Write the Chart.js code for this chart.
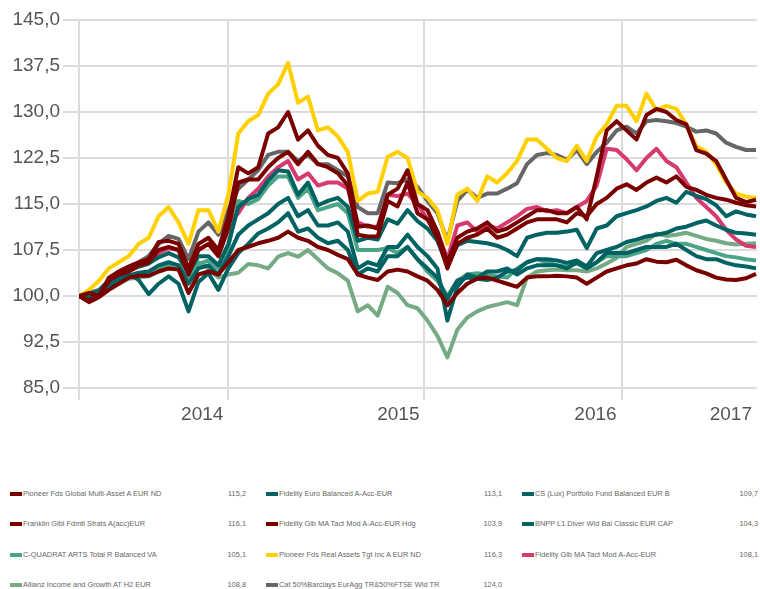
<!DOCTYPE html>
<html><head><meta charset="utf-8">
<script src="https://cdn.jsdelivr.net/npm/chart.js@4.4.0/dist/chart.umd.min.js"></script>
<style>
body{margin:0;background:#fff;width:760px;height:589px;overflow:hidden;position:relative;font-family:"Liberation Sans",Arial,sans-serif;}
#c{position:absolute;left:0;top:0;}
.lt{position:absolute;font-size:7.4px;color:#666;white-space:nowrap;line-height:10px;}
.sw{position:absolute;width:12px;height:4px;}
.lv{position:absolute;font-size:7.4px;color:#666;text-align:right;width:40px;line-height:10px;}
</style></head><body>
<canvas id="c" width="760" height="440"></canvas>
<div id="legend"></div>
<script>
// x tick positions (index units) and labels
const xTickPositions = [0, 15, 34.7, 54.5, 68.1];
const xTickLabels = ['', '2014', '2015', '2016', '2017'];
const yTickValues = [85, 92.5, 100, 107.5, 115, 122.5, 130, 137.5, 145];

// series values (index 0..68)
const franklin = [100,99.3,100,103,104,104.8,105.5,106,108.8,109,108.5,104.5,108.5,109.5,107.5,113,121,120,121,126.5,127.5,130,125.5,127,124.5,123,122.5,120,111.3,111.5,111,116.5,117.5,120.5,115,114,110.5,105.5,109.5,110.5,111,112,110.5,111,112,113,114,114,113.5,113.5,114.5,112.5,119.5,127,128.5,127,125.5,129.5,130.5,130,128.7,128,123.8,123.2,122,119,116,115.3,115.7];
const pioneerGlobal = [100,100.5,100,102.5,103.5,104,105,105.5,107.5,108,107.5,103.5,107.5,108.5,106.5,111,118.5,119,119,121,122.5,123.5,121.5,123.5,121.5,121,120,118,110,109.7,109.7,115.5,114.6,118.5,113.5,112.5,109.5,104.5,108.5,109.5,110,111,109.5,110,111,112,112.5,112.5,112.5,112,113.5,113,115,116,117.5,118.2,117.3,118.5,119.3,118.5,119.5,117.8,117.3,116.5,116,115.7,115.2,114.8,114.6];
const fidelityHdg = [100,99,99.8,101,102,103,103.3,103.3,104,104.5,104.3,100.5,103.5,104,103.5,105.5,107.5,108,108.6,109,109.5,110.5,109.5,109,108,107.5,106.7,106,103.5,103,102.6,104,104.3,104,103.2,102.5,101,98.5,100.5,102,102.8,103,102.5,102,101.5,103,103.2,103.2,103.3,103.2,103,102,103,104,104.5,105,105.3,106,105.6,105.5,105.9,105,104.2,103.7,103,102.7,102.6,102.9,103.6];
const fidelityEuro = [100,100.3,100.8,102.5,103.5,104.3,104.8,105.3,106.3,107,106.3,103.8,106.5,106.5,105,108.5,114.5,115.8,116.5,118.8,120.5,120.3,116.5,118.5,114.8,115.5,116,114.5,109,109.5,109.2,112.5,111.8,114,112.2,111,109,105,108.3,109,108.8,108.6,108.2,107.5,106.5,109.5,110,110.3,110.3,110.5,110.8,107.8,111,111.5,113,113.5,114,114.6,115.5,116,115.2,117,116.3,115.8,114.8,113,113.8,113.3,113];
const csPortfolio = [100,99.3,100.3,101.5,102.8,103.7,102.6,100.3,102,103.2,102,97.5,102.3,103.7,101,104.5,107,108.5,110.2,111,112,113.5,110.5,111,109.5,108.6,109,107.5,103.5,104.5,104,106.5,106.5,108,106,104.5,103,99.5,102.5,103,102.8,102.6,103,104,104.2,105.5,106,106,105.8,105.4,105.8,104.8,107,107.5,108,108.8,109.2,109.7,110,110.3,111,111.3,111.9,112.3,111.5,110.8,110.3,110.2,110];
const bnpp = [100,100,100.5,101.8,102.5,103.3,103.8,104,105,105.5,105,102,104.5,105,103.5,106.5,110,111.5,112.5,113.5,115,116,113,114,111.5,111.5,112,110.5,104.5,105.5,105,108,108,110,108,106.5,104.5,96,101.5,103.5,103,104,104,104.5,103.5,104.5,105,105,105,104.5,105.5,104.5,105.5,107,107,107,107.5,108,108,108,108.5,107.5,106.5,106,106,105.4,105,104.8,104.5];
const fidelityTact = [100,100,100.3,102,103.2,104,104.8,105.3,107,107.8,107.5,104,107.5,108.5,107,112,113.5,116,117.5,119.5,121,122,119,120,118,118.5,118.5,117.5,112,111.3,111.3,116.5,116.3,116.7,115,112.5,110.5,106,111.5,112,110.5,111.5,111,112,113,114.2,114.5,113.8,114,113.5,114.5,115.5,118,124,123.8,122.3,120.5,122.5,124,122,121,118.5,116,114.5,113,110.8,109.2,108.2,108];
const pioneerRealAssets = [100,101,102.5,104.5,105.5,106.5,108.5,109.5,113,114.5,112,108.5,114,114,110.5,116.5,126.5,128.5,129.5,133,134.5,138,131.5,132.5,127,127.5,126,123.5,115.5,116.7,117,122.7,123.5,122.5,117,116,114,108.5,116.5,117.5,115.5,119.5,118.5,120,122,125.5,125.5,124,122.5,122,124.5,122,126,128,131,131,128.5,133,130.3,131,130.5,128,124.4,123.5,121.5,118.5,116.7,116.2,116];
const catBenchmark = [100,100.5,101,102.5,104,104.8,105.5,106.5,108.5,109.8,109.3,106,110.5,112,110,114,117.5,119,120.5,123,123.5,123.5,122,123,121.5,121.5,120.5,119.5,114.5,113.5,113.5,118.5,118.4,119,117.8,115.5,113.5,109,115.5,117.3,116,116.7,116.7,117.5,118.4,121.5,123,123.3,123,122.2,123.8,121.5,123.5,125,127,127.6,126.5,128.5,128.7,128.5,128.2,127.6,126.8,127,126.5,125,124.3,123.8,123.8];
const cQuadrat = [100,100,100.5,101.8,102.5,103.3,103.5,103.8,104.5,105.2,105,103,105.2,105.8,104.5,108,115.5,115,115.8,118,119.5,119.5,116,117.5,114,114.5,115,113.5,107.5,107.5,107.5,107.8,107,108,106,104,102.5,100,102.5,103.5,103.7,103.5,103.2,103,104.5,105.5,106,105.5,105,104.8,105.3,104.5,105.5,106.5,106.5,106.5,107,107.5,108.5,109,108.5,108.5,108,107.5,107,106.5,106.3,106,105.8];
const allianz = [100,99.8,100.3,101.3,102,102.8,103,103.2,104,104.6,104.8,103.2,105.5,104.5,103,103.5,103.8,105.2,105,104.5,106.4,107,106.4,107.5,106,104.5,103.7,102.5,97.5,98.5,96.8,101.5,100.5,98.5,98,96,93.5,90,94.5,96.5,97.5,98.2,98.6,99,98.5,103,104,104.2,104.3,104.2,104.2,104,104.5,105.3,106.2,108,108.5,109,110.2,109.8,110,110.3,109.8,109.3,109,108.6,108.4,108.5,108.6];

// legend (column-major order)
const legendNames = [
  'Pioneer Fds Global Multi-Asset A EUR ND','Franklin Glbl Fdmtl Strats A(acc)EUR','C-QUADRAT ARTS Total R Balanced VA','Allianz Income and Growth AT H2 EUR',
  'Fidelity Euro Balanced A-Acc-EUR','Fidelity Glb MA Tact Mod A-Acc-EUR Hdg','Pioneer Fds Real Assets Tgt Inc A EUR ND','Cat 50%Barclays EurAgg TR&50%FTSE Wld TR',
  'CS (Lux) Portfolio Fund Balanced EUR B','BNPP L1 Diver Wld Bal Classic EUR CAP','Fidelity Glb MA Tact Mod A-Acc-EUR'];
const legendValues = ['115,2','116,1','105,1','108,8','113,1','103,9','116,3','124,0','109,7','104,3','108,1'];
const legendColors = ['#7a0000','#7a0000','#4aa585','#74ab84','#006262','#7a0000','#ffd000','#666666','#006262','#006262','#d63a6e'];

// drawing order: first = on top
const seriesList = [
  {name:legendNames[1], data:franklin, color:'#7a0000'},
  {name:legendNames[0], data:pioneerGlobal, color:'#7a0000'},
  {name:legendNames[5], data:fidelityHdg, color:'#7a0000'},
  {name:legendNames[4], data:fidelityEuro, color:'#006262'},
  {name:legendNames[8], data:csPortfolio, color:'#006262'},
  {name:legendNames[9], data:bnpp, color:'#006262'},
  {name:legendNames[10], data:fidelityTact, color:'#d63a6e'},
  {name:legendNames[6], data:pioneerRealAssets, color:'#ffd000'},
  {name:legendNames[7], data:catBenchmark, color:'#666666'},
  {name:legendNames[2], data:cQuadrat, color:'#4aa585'},
  {name:legendNames[3], data:allianz, color:'#74ab84'}
];

const datasets = seriesList.map(s => ({
  label: s.name,
  data: s.data.map((v,i) => ({x:i, y:v})),
  borderColor: s.color,
  backgroundColor: s.color,
  borderWidth: 4,
  pointRadius: 0,
  tension: 0,
  fill: false,
  borderJoinStyle: 'round'
}));

const tickFont = {family:'"Liberation Sans", Arial, sans-serif', size:19};

new Chart(document.getElementById('c'), {
  type: 'line',
  data: {datasets},
  options: {
    responsive: false,
    animation: false,
    layout: {padding: {top: 20, right: 0, left: 0, bottom: 0}},
    plugins: {legend: {display:false}, tooltip: {enabled:false}},
    scales: {
      x: {
        type: 'linear', min: 0, max: 68.1,
        afterBuildTicks: s => { s.ticks = xTickPositions.map(v => ({value:v})); },
        afterFit: s => { s.height = 52; },
        border: {display:false},
        grid: {
          color: ctx => (ctx.tick && ctx.tick.value === 68.1) ? 'rgba(0,0,0,0)' : '#dcdcdc',
          lineWidth: 2, tickLength: 12, drawTicks: true
        },
        ticks: {
          autoSkip: false, maxRotation: 0, minRotation: 0, align: 'end', labelOffset: -5, padding: 3,
          color: '#555', font: tickFont,
          callback: (v, i) => xTickLabels[i]
        }
      },
      y: {
        min: 85, max: 145,
        afterBuildTicks: s => { s.ticks = yTickValues.map(v => ({value:v})); },
        afterFit: s => { s.width = 79; },
        border: {display:false},
        grid: {color:'#dcdcdc', lineWidth: 2, tickLength: 16},
        ticks: {padding: 3, color:'#555', font: tickFont,
          callback: v => Number(v).toFixed(1).replace('.', ',')}
      }
    }
  }
});

// HTML legend
const lg = document.getElementById('legend');
const colX = [10, 266, 522];
const rowY = [494, 524, 555, 585];
legendNames.forEach((n, k) => {
  const col = Math.floor(k / 4), row = k % 4;
  const sw = document.createElement('div');
  sw.className = 'sw'; sw.style.left = colX[col] + 'px'; sw.style.top = (rowY[row] - 2) + 'px';
  sw.style.background = legendColors[k];
  lg.appendChild(sw);
  const t = document.createElement('div');
  t.className = 'lt'; t.textContent = n;
  t.style.left = (colX[col] + 13) + 'px'; t.style.top = (rowY[row] - 5) + 'px';
  lg.appendChild(t);
  const v = document.createElement('div');
  v.className = 'lv'; v.textContent = legendValues[k];
  v.style.left = (colX[col] + 196) + 'px'; v.style.top = (rowY[row] - 5) + 'px';
  lg.appendChild(v);
});
</script>
</body></html>
